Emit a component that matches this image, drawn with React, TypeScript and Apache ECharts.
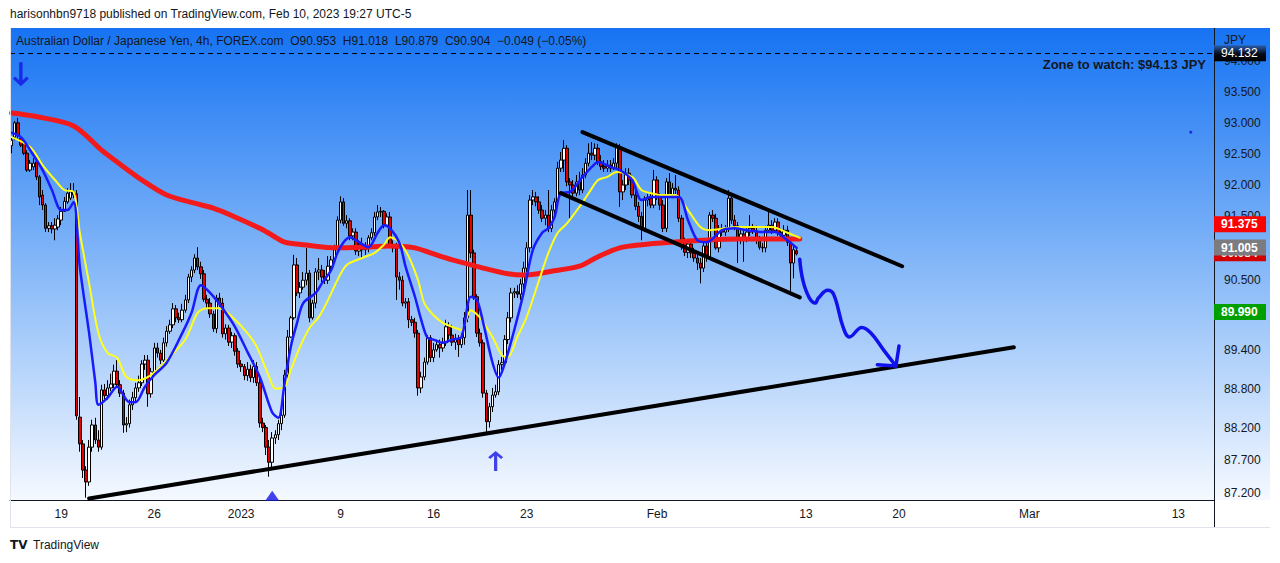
import React, { useEffect, useRef } from 'react';
import * as echarts from 'echarts';

const FONT = "'Liberation Sans', Arial, sans-serif";
const CATEGORY_COUNT = 388;

// [open, close, low, high] per 4h bar
const candles: number[][] = [
  [92.63,92.72,92.51,92.77],[92.77,93.00,92.72,93.03],[93.00,92.80,92.75,93.08],[92.75,92.64,92.61,92.79],[92.69,92.51,92.48,92.72],[92.51,92.24,92.21,92.56],[92.24,92.35,92.21,92.40],[92.29,92.35,92.24,92.43],[92.37,92.13,92.08,92.43],[92.13,91.81,91.68,92.16],
  [91.84,91.68,91.60,91.92],[91.68,91.31,91.25,91.71],[91.31,91.35,91.25,91.41],[91.35,91.30,91.23,91.41],[91.30,91.36,91.12,91.47],[91.33,91.46,91.28,91.52],[91.44,91.58,91.36,91.65],[91.58,91.74,91.57,91.81],[91.73,91.87,91.70,91.95],[91.79,91.89,91.76,92.03],
  [91.89,91.84,91.79,92.03],[91.86,88.38,88.32,91.92],[88.36,87.95,87.83,88.67],[87.95,87.55,87.43,88.01],[87.55,87.37,87.13,87.61],[87.37,87.90,87.31,88.01],[87.90,88.24,87.83,88.32],[88.24,88.01,87.95,88.35],[88.01,87.90,87.83,88.16],[87.90,88.78,87.86,88.86],
  [88.78,88.69,88.63,88.87],[88.69,88.81,88.63,88.93],[88.81,88.87,88.76,89.03],[88.87,89.07,88.81,89.17],[89.07,88.86,88.81,89.24],[88.86,88.73,88.67,88.93],[88.73,88.24,88.12,88.78],[88.24,88.26,88.13,88.36],[88.26,88.55,88.20,88.63],[88.55,88.66,88.47,88.75],
  [88.66,88.81,88.59,88.89],[88.81,88.89,88.75,89.00],[88.89,89.18,88.84,89.24],[89.18,89.24,89.09,89.32],[89.24,88.72,88.52,89.32],[88.72,89.06,88.66,89.12],[89.06,89.43,89.00,89.51],[89.43,89.35,89.28,89.51],[89.35,89.24,89.18,89.40],[89.24,89.51,89.21,89.59],
  [89.51,89.69,89.45,89.77],[89.69,89.79,89.65,89.87],[89.79,90.04,89.74,90.13],[90.04,89.90,89.83,90.10],[89.90,89.87,89.82,89.98],[89.87,90.02,89.83,90.12],[90.02,90.18,89.98,90.26],[90.18,90.54,90.13,90.59],[90.54,90.65,90.46,90.71],[90.65,90.84,90.60,90.90],
  [90.84,90.70,90.65,91.01],[90.70,90.59,90.51,90.78],[90.59,90.19,90.15,90.65],[90.19,90.13,90.05,90.26],[90.13,89.96,89.90,90.21],[89.96,89.73,89.68,90.01],[89.73,90.21,89.66,90.26],[90.21,90.13,90.07,90.29],[90.13,89.65,89.59,90.21],[89.65,89.74,89.56,89.80],
  [89.74,89.52,89.46,89.79],[89.52,89.62,89.43,89.68],[89.62,89.38,89.31,89.66],[89.38,89.18,89.12,89.43],[89.18,89.14,89.06,89.24],[89.14,89.00,88.93,89.18],[89.00,89.10,88.92,89.21],[89.10,88.97,88.90,89.17],[88.97,89.14,88.89,89.24],[89.14,88.89,88.84,89.21],
  [88.89,88.27,88.20,88.97],[88.27,88.20,88.13,88.35],[88.20,87.90,87.78,88.24],[87.90,87.67,87.45,88.01],[87.67,88.04,87.55,88.13],[88.04,88.09,87.95,88.16],[88.09,88.26,88.01,88.32],[88.26,88.39,88.16,88.47],[88.39,89.01,88.35,89.09],[89.01,89.60,88.93,89.71],
  [89.60,89.90,89.59,89.93],[89.90,90.73,89.87,90.89],[90.73,90.29,90.24,90.84],[90.29,90.38,90.21,90.46],[90.38,90.49,90.34,90.62],[90.49,90.60,90.41,91.00],[90.60,89.90,89.83,90.65],[89.90,90.13,89.87,90.18],[90.13,90.62,90.05,90.68],[90.62,90.65,90.49,90.84],
  [90.65,90.54,90.46,90.73],[90.54,90.49,90.43,90.65],[90.49,90.71,90.43,90.87],[90.71,90.81,90.65,90.87],[90.81,90.97,90.76,91.05],[90.97,91.44,90.92,91.50],[91.44,91.73,91.39,91.82],[91.73,91.39,91.35,91.79],[91.39,91.43,91.31,91.52],[91.43,91.19,91.12,91.47],
  [91.19,91.25,91.12,91.31],[91.25,90.95,90.89,91.31],[90.95,91.05,90.87,91.12],[91.05,90.97,90.84,91.16],[90.97,91.01,90.89,91.09],[91.01,91.16,90.93,91.20],[91.16,91.24,91.12,91.31],[91.24,91.49,91.19,91.57],[91.49,91.57,91.44,91.68],[91.57,91.58,91.49,91.65],
  [91.58,91.36,91.31,91.60],[91.36,91.49,91.33,91.55],[91.49,91.05,91.00,91.57],[91.05,91.00,90.93,91.12],[91.00,90.54,90.18,91.08],[90.54,90.49,90.34,90.62],[90.49,90.13,90.08,90.56],[90.13,90.15,90.05,90.21],[90.15,89.87,89.74,90.21],[89.87,89.83,89.77,89.93],
  [89.83,89.66,89.59,89.90],[89.66,88.81,88.69,89.71],[88.81,88.98,88.73,89.06],[88.98,89.21,88.93,89.28],[89.21,89.59,89.17,89.63],[89.59,89.28,89.21,89.63],[89.28,89.40,89.21,89.51],[89.40,89.48,89.37,89.56],[89.48,89.43,89.28,89.56],[89.43,89.51,89.37,89.59],
  [89.51,89.76,89.46,89.87],[89.76,89.63,89.56,89.83],[89.63,89.52,89.46,89.79],[89.52,89.57,89.40,89.65],[89.57,89.48,89.29,89.63],[89.48,89.59,89.43,89.66],[89.59,89.90,89.48,89.99],[89.90,91.52,89.83,91.92],[91.52,90.92,90.84,91.92],[90.92,90.23,90.18,90.97],
  [90.23,89.66,89.60,90.27],[89.66,89.51,89.45,89.73],[89.51,88.73,88.66,89.56],[88.73,88.29,88.13,88.78],[88.29,88.52,88.20,88.58],[88.52,88.70,88.44,88.81],[88.70,88.75,88.66,88.86],[88.75,89.17,88.70,89.24],[89.17,89.20,89.09,89.29],[89.20,89.56,89.15,89.63],
  [89.56,89.90,89.49,89.99],[89.90,90.29,89.83,90.37],[90.29,90.31,90.21,90.37],[90.31,90.27,90.21,90.41],[90.27,90.43,90.18,90.51],[90.43,90.68,90.34,90.78],[90.68,91.00,90.62,91.09],[91.00,91.76,90.93,91.84],[91.76,91.81,91.68,91.92],[91.81,91.73,91.66,91.89],
  [91.73,91.60,91.54,91.82],[91.60,91.47,91.41,91.68],[91.47,91.52,91.36,91.60],[91.52,91.31,91.25,91.92],[91.31,91.60,91.25,91.68],[91.60,91.73,91.52,91.79],[91.73,92.27,91.68,92.37],[92.27,92.40,92.21,92.53],[92.40,92.59,92.21,92.72],[92.59,92.05,91.98,92.64],
  [92.05,92.00,91.47,92.11],[92.00,91.87,91.79,92.08],[91.87,92.05,91.82,92.16],[92.05,91.92,91.84,92.21],[91.92,92.16,91.87,92.27],[92.16,92.35,92.11,92.43],[92.35,92.51,92.30,92.67],[92.51,92.48,92.40,92.69],[92.48,92.59,92.40,92.67],[92.59,92.37,92.32,92.66],
  [92.37,92.30,92.24,92.48],[92.30,92.27,92.21,92.40],[92.27,92.32,92.21,92.40],[92.32,92.27,92.21,92.40],[92.27,92.35,92.24,92.43],[92.35,92.61,92.27,92.67],[92.61,91.89,91.65,92.66],[91.89,92.00,91.76,92.08],[92.00,92.19,91.92,92.27],[92.19,92.08,92.00,92.27],
  [92.08,91.84,91.79,92.16],[91.84,91.66,91.60,91.92],[91.66,91.50,91.41,91.73],[91.50,91.31,91.12,91.57],[91.31,91.76,91.25,91.82],[91.76,91.79,91.66,91.86],[91.79,91.68,91.63,91.87],[91.68,92.08,91.63,92.24],[92.08,91.81,91.76,92.14],[91.81,91.68,91.60,91.87],
  [91.68,91.31,91.25,91.76],[91.31,92.05,91.25,92.11],[92.05,91.84,91.79,92.19],[91.84,91.95,91.79,92.03],[91.95,91.92,91.84,92.16],[91.92,91.47,91.41,91.98],[91.47,91.08,90.97,91.52],[91.08,90.93,90.87,91.16],[90.93,91.06,90.84,91.12],[91.06,90.92,90.84,91.12],
  [90.92,90.84,90.78,91.00],[90.84,90.76,90.65,90.90],[90.76,90.68,90.44,90.84],[90.68,91.03,90.62,91.09],[91.03,90.86,90.78,91.09],[90.86,91.52,90.81,91.57],[91.52,91.47,91.41,91.60],[91.47,91.00,90.97,91.54],[91.00,91.31,90.93,91.36],[91.31,91.25,91.19,91.38],
  [91.25,91.30,91.19,91.36],[91.30,91.79,91.25,91.92],[91.79,91.44,91.38,91.84],[91.44,91.35,91.28,91.52],[91.35,91.12,90.76,91.41],[91.12,91.22,91.06,91.28],[91.22,91.16,90.78,91.28],[91.16,91.25,91.09,91.31],[91.25,91.31,91.19,91.52],[91.31,91.27,91.22,91.38],
  [91.27,91.12,91.06,91.35],[91.12,91.01,90.97,91.19],[91.01,91.00,90.93,91.08],[91.00,91.28,90.93,91.35],[91.28,91.36,91.24,91.57],[91.36,91.28,91.22,91.44],[91.28,91.41,91.24,91.47],[91.41,91.24,91.19,91.47],[91.24,91.20,91.16,91.31],[91.20,91.28,91.16,91.36],
  [91.28,91.09,91.03,91.35],[91.09,90.76,90.26,91.16],[90.76,90.97,90.52,91.03],[90.953,90.904,90.879,91.018],
];

// moving averages: [bar index, value]
const ma200: number[][] = [
  [0,93.16],[7,93.11],[20,92.95],[29,92.56],[34,92.37],[42,92.08],[50,91.84],[59,91.71],[65,91.63],[72,91.49],[80,91.31],[84,91.20],[88,91.09],[94,91.05],[105,91.00],[113,91.01],[122,91.03],[130,91.00],[135,90.92],[142,90.81],[146,90.76],[152,90.68],[160,90.59],[165,90.57],[174,90.63],[183,90.71],[189,90.86],[196,91.00],[203,91.05],[213,91.09],[223,91.12],[234,91.14],[245,91.14],[254,91.14],
];
const emaFast: number[][] = [
  [0,92.84],[3,92.77],[6,92.56],[10,92.24],[13,91.92],[16,91.60],[18,91.60],[20,91.73],[22,90.70],[25,89.66],[27,88.89],[28,88.55],[31,88.66],[34,88.83],[38,88.59],[40,88.59],[43,88.83],[46,89.01],[50,89.20],[55,89.66],[58,89.98],[61,90.41],[64,90.29],[68,90.05],[72,89.76],[76,89.37],[80,88.98],[84,88.43],[86,88.35],[88,88.89],
  [90,89.45],[92,89.82],[94,90.13],[98,90.29],[100,90.44],[103,90.65],[105,90.92],[107,91.09],[109,91.17],[112,91.09],[115,91.01],[118,91.24],[120,91.36],[122,91.31],[125,91.08],[127,90.70],[130,90.23],[132,89.87],[134,89.59],[136,89.56],[139,89.51],[142,89.56],[145,89.60],[148,90.23],[150,90.18],[152,89.82],[155,89.20],[157,88.97],[159,89.20],[162,89.71],
  [165,90.29],[168,90.97],[171,91.24],[173,91.31],[175,91.49],[177,91.87],[180,91.89],[184,92.13],[187,92.29],[189,92.37],[193,92.29],[196,92.24],[200,92.08],[203,91.76],[206,91.81],[210,91.81],[215,91.81],[218,91.44],[221,91.12],[224,91.09],[229,91.28],[233,91.31],[237,91.28],[242,91.25],[246,91.25],[250,91.12],[253,91.00],
];
const emaSlow: number[][] = [
  [0,92.77],[6,92.61],[10,92.32],[14,92.08],[17,91.92],[20,91.89],[22,91.24],[25,90.44],[28,89.66],[31,89.35],[34,89.28],[37,88.98],[41,88.93],[44,88.98],[47,89.09],[51,89.29],[56,89.56],[60,89.98],[63,90.05],[67,90.05],[72,89.87],[76,89.66],[79,89.45],[83,88.98],[85,88.80],[88,88.83],[90,89.09],[93,89.45],[96,89.74],[99,89.91],
  [102,90.18],[105,90.49],[108,90.73],[113,90.84],[117,90.92],[120,91.05],[122,91.17],[125,91.09],[128,90.86],[131,90.49],[133,90.13],[136,89.94],[139,89.82],[143,89.74],[145,89.71],[148,90.02],[151,89.90],[155,89.60],[158,89.32],[160,89.29],[163,89.60],[166,89.91],[170,90.49],[173,90.92],[176,91.24],[179,91.39],[183,91.65],[186,91.87],[189,92.08],[192,92.13],
  [195,92.21],[200,92.13],[203,91.92],[206,91.87],[210,91.84],[214,91.84],[218,91.60],[222,91.33],[225,91.28],[230,91.31],[234,91.33],[239,91.33],[245,91.33],[250,91.24],[254,91.16],
];

// drawings: [bar index, price]
const supportLine: number[][] = [[25, 87.12], [323, 89.44]];
const channelUpper: number[][] = [[184, 92.85], [287, 90.71]];
const channelLower: number[][] = [[177, 91.87], [254, 90.22]];
const projectionPath: number[][] = [[254,90.82],[255,90.49],[257,90.22],[259,90.13],[260,90.21],[263,90.33],[265,90.26],[268,89.75],[270,89.60],[274,89.75],[277,89.66],[281,89.40],[285,89.15]];
const projectionHead: number[][] = [[286, 89.46], [285, 89.15], [279, 89.17]];
const downArrows: number[][] = [[3, 93.79]];
const upArrows: number[][] = [[156, 87.69]];
const triangles: number[][] = [[84, 87.16]];
const dots: number[][] = [[380, 92.85]];

const xTickLabels: [number, string][] = [
  [16, '19'], [46, '26'], [74, '2023'], [106, '9'], [136, '16'], [166, '23'],
  [208, 'Feb'], [256, '13'], [286, '20'], [328, 'Mar'], [376, '13'],
];
const priceTicks: number[] = [94.0, 93.5, 93.0, 92.5, 92.0, 91.5, 90.5, 89.4, 88.8, 88.2, 87.7, 87.2];
const priceBadges: { value: number; text: string; color: string }[] = [
  { value: 91.375, text: '91.375', color: '#ff0000' },
  { value: 90.915, text: '90.984', color: '#d10000' },
  { value: 91.005, text: '91.005', color: '#7b7b80' },
  { value: 89.99, text: '89.990', color: '#009f00' },
];
const zoneLevel = 94.132;

const Y_MIN = 87.096;
const Y_MAX = 94.547;

const DOWN_ARROW = 'path://M5.5,0 L8.5,0 L8.5,17 L12,13.5 L14,15.5 L7,22.5 L0,15.5 L2,13.5 L5.5,17 Z';
const UP_ARROW = 'path://M5.5,22.5 L8.5,22.5 L8.5,5.5 L12,9 L14,7 L7,0 L0,7 L2,9 L5.5,5.5 Z';

export default function App() {
  const ref = useRef<HTMLDivElement>(null);

  useEffect(() => {
    document.body.style.margin = '0';
    if (!ref.current) return;
    const chart = echarts.init(ref.current, undefined, { renderer: 'svg' });
    const categories = Array.from({ length: CATEGORY_COUNT }, (_, i) => String(i));
    const labelMap = new Map<number, string>(xTickLabels);

    const lineSeries = (data: number[][], color: string, width: number, smooth: number | boolean, z: number) => ({
      type: 'line',
      data,
      showSymbol: false,
      symbol: 'none',
      smooth,
      z,
      silent: true,
      lineStyle: { color, width, cap: 'round', join: 'round' },
    });

    chart.setOption({
      animation: false,
      backgroundColor: '#ffffff',
      grid: { left: 10, top: 28, right: 66, bottom: 63 },
      xAxis: {
        type: 'category',
        data: categories,
        boundaryGap: true,
        axisLine: { show: true, lineStyle: { color: '#131722', width: 1 } },
        axisTick: { show: false },
        splitLine: { show: false },
        axisLabel: {
          interval: (index: number) => labelMap.has(index),
          formatter: (value: string) => labelMap.get(Number(value)) ?? '',
          color: '#131722',
          fontSize: 12,
          fontFamily: FONT,
          margin: 8,
        },
      },
      yAxis: {
        type: 'log',
        logBase: 10,
        min: Y_MIN,
        max: Y_MAX,
        position: 'right',
        axisLine: { show: false },
        axisTick: { show: false },
        axisLabel: { show: false },
        splitLine: { show: false },
      },
      series: [
        {
          type: 'candlestick',
          data: candles,
          barWidth: 3,
          z: 2,
          itemStyle: {
            color: '#ffffff',
            color0: '#e60000',
            borderColor: '#000000',
            borderColor0: '#000000',
            borderWidth: 1,
          },
          markLine: {
            silent: true,
            symbol: ['none', 'none'],
            label: { show: false },
            lineStyle: { color: '#000000', type: [5, 4], width: 1 },
            data: [{ yAxis: zoneLevel }],
          },
        },
        lineSeries(ma200, '#f21a1a', 5, 0.3, 3),
        lineSeries(emaSlow, '#ffff1a', 2, 0.3, 4),
        lineSeries(emaFast, '#1a1aff', 2.5, 0.3, 5),
        lineSeries(supportLine, '#000000', 4, false, 6),
        lineSeries(channelUpper, '#000000', 4, false, 6),
        lineSeries(channelLower, '#000000', 4, false, 6),
        lineSeries(projectionPath, '#1111ee', 3.5, 0.4, 6),
        lineSeries(projectionHead, '#1111ee', 3.5, false, 6),
        { type: 'scatter', data: downArrows, symbol: DOWN_ARROW, symbolSize: [16, 24], itemStyle: { color: '#1414e6' }, z: 7, silent: true },
        { type: 'scatter', data: upArrows, symbol: UP_ARROW, symbolSize: [15, 20], itemStyle: { color: '#1414e6' }, z: 7, silent: true },
        { type: 'scatter', data: triangles, symbol: 'triangle', symbolSize: [14, 10], itemStyle: { color: '#1414e6' }, z: 7, silent: true, clip: false },
        { type: 'scatter', data: dots, symbol: 'circle', symbolSize: 3, itemStyle: { color: '#1414e6' }, z: 7, silent: true },
      ],
    });

    const py = (v: number) => chart.convertToPixel({ yAxisIndex: 0 }, v) as number;
    const elements: any[] = [];
    // pane background
    elements.push({
      type: 'rect', z: -10, silent: true,
      shape: { x: 10, y: 28, width: 1260, height: 472 },
      style: {
        fill: new echarts.graphic.LinearGradient(0, 0, 0, 1, [
          { offset: 0, color: '#1673f3' },
          { offset: 0.5, color: '#84b7f8' },
          { offset: 1, color: '#f5f9ff' },
        ]),
      },
    });
    elements.push({ type: 'line', z: 50, silent: true, shape: { x1: 10, y1: 527.5, x2: 1270, y2: 527.5 }, style: { stroke: '#e0e3eb', lineWidth: 1 } });
    elements.push({ type: 'line', z: 50, silent: true, shape: { x1: 10.5, y1: 28, x2: 10.5, y2: 527 }, style: { stroke: '#e0e3eb', lineWidth: 1 } });
    elements.push({ type: 'line', z: 50, silent: true, shape: { x1: 1214.5, y1: 28, x2: 1214.5, y2: 527 }, style: { stroke: '#131722', lineWidth: 1 } });

    // price tick labels
    priceTicks.forEach((v) => {
      elements.push({
        type: 'text', z: 60, silent: true, x: 1224, y: py(v),
        style: { text: v.toFixed(3), fill: '#131722', fontSize: 12, fontFamily: FONT, verticalAlign: 'middle', align: 'left' },
      });
    });
    elements.push({
      type: 'text', z: 60, silent: true, x: 1224, y: 40,
      style: { text: 'JPY', fill: '#131722', fontSize: 12, fontFamily: FONT, verticalAlign: 'middle', align: 'left' },
    });

    // badges (each stacked over the previous one)
    const zy = py(zoneLevel);
    elements.push({
      type: 'rect', z: 70, silent: true, shape: { x: 1214, y: zy - 8, width: 52, height: 16 },
      style: { fill: new echarts.graphic.LinearGradient(0, 0, 0, 1, [{ offset: 0, color: '#2a5fb0' }, { offset: 0.55, color: '#050a14' }, { offset: 1, color: '#000000' }]) },
    });
    elements.push({
      type: 'text', z: 71, silent: true, x: 1221, y: zy,
      style: { text: '94.132', fill: '#ffffff', fontSize: 12, fontFamily: FONT, verticalAlign: 'middle', align: 'left' },
    });
    priceBadges.forEach((b, k) => {
      const y = py(b.value);
      const zBase = 72 + k * 2;
      elements.push({ type: 'rect', z: zBase, silent: true, shape: { x: 1214, y: y - 8, width: 52, height: 16 }, style: { fill: b.color } });
      elements.push({
        type: 'text', z: zBase + 1, silent: true, x: 1221, y,
        style: { text: b.text, fill: '#ffffff', fontSize: 12, fontWeight: 'bold', fontFamily: FONT, verticalAlign: 'middle', align: 'left' },
      });
    });

    // texts
    elements.push({
      type: 'text', z: 90, silent: true, x: 10, y: 14,
      style: { text: 'harisonhbn9718 published on TradingView.com, Feb 10, 2023 19:27 UTC-5', fill: '#131722', fontSize: 12, fontFamily: FONT, verticalAlign: 'middle' },
    });
    elements.push({
      type: 'text', z: 90, silent: true, x: 16, y: 41,
      style: { text: 'Australian Dollar / Japanese Yen, 4h, FOREX.com  O90.953  H91.018  L90.879  C90.904  \u22120.049 (\u22120.05%)', fill: '#131722', fontSize: 12, fontFamily: FONT, verticalAlign: 'middle' },
    });
    elements.push({
      type: 'text', z: 90, silent: true, x: 1206, y: 64,
      style: { text: 'Zone to watch: $94.13 JPY', fill: '#131722', fontSize: 13, fontWeight: 'bold', fontFamily: FONT, verticalAlign: 'middle', align: 'right' },
    });
    elements.push({
      type: 'text', z: 90, silent: true, x: 10, y: 545,
      style: { text: 'TV', fill: '#131722', fontSize: 12, fontWeight: 900, fontFamily: "'DejaVu Sans', sans-serif", verticalAlign: 'middle' },
    });
    elements.push({
      type: 'text', z: 90, silent: true, x: 33, y: 545,
      style: { text: 'TradingView', fill: '#131722', fontSize: 12, fontFamily: FONT, verticalAlign: 'middle' },
    });

    chart.setOption({ graphic: { elements } });

    return () => {
      chart.dispose();
    };
  }, []);

  return <div ref={ref} style={{ width: 1280, height: 563 }} />;
}
